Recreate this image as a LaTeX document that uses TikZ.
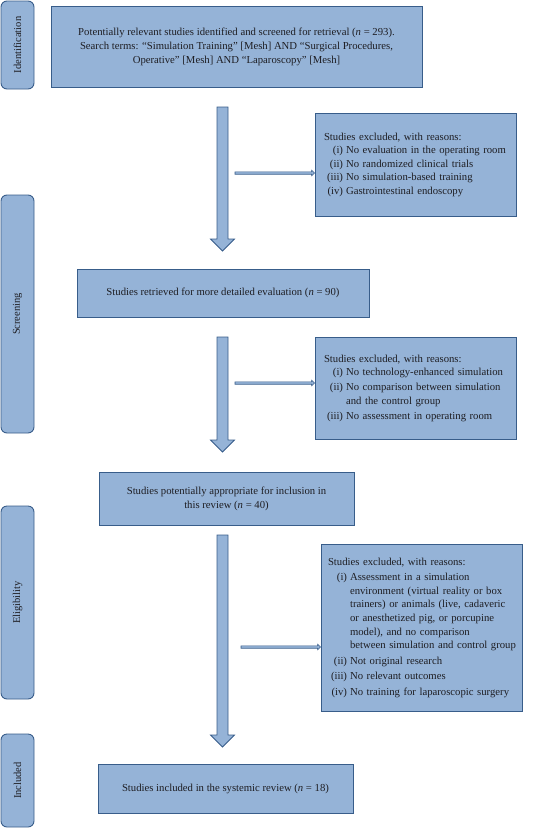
\documentclass[tikz,border=0pt]{standalone}
\usepackage{fontspec}
\setmainfont{Liberation Serif}
\usetikzlibrary{calc}

\definecolor{boxfill}{RGB}{149,179,215}
\definecolor{boxline}{RGB}{56,93,138}
\definecolor{ink}{RGB}{30,30,35}

\tikzset{
  stage/.style={draw=boxline,fill=boxfill,line width=0.9pt,text=ink,align=center,
    inner sep=0pt,font=\fontsize{10.7}{14}\selectfont},
  excl/.style={stage,align=left,text width=183pt,inner xsep=9pt,font=\fontsize{10.7}{13.6}\selectfont},
  phase/.style={draw=boxline,fill=boxfill,line width=0.9pt,rounded corners=6pt,
    text=ink,inner sep=0pt,minimum width=33pt,font=\fontsize{10.5}{12}\selectfont},
  blockarrow/.style={draw=boxline,fill=boxfill,line width=0.8pt,line join=miter}
}

% block arrow going down from #1 to the tip #2
\newcommand\flowdown[2]{%
  \draw[blockarrow] ($(#1)+(-5.5pt,0)$) -- ($(#2)+(-5.5pt,12pt)$) -- ($(#2)+(-12pt,12pt)$)
    -- (#2) -- ($(#2)+(12pt,12pt)$) -- ($(#2)+(5.5pt,12pt)$) -- ($(#1)+(5.5pt,0)$) -- cycle;}
% thin arrow going right from #1 to the tip #2
\newcommand\flowright[2]{%
  \draw[blockarrow,line width=0.6pt] ($(#1)+(0,1.2pt)$) -- ($(#2)+(-3pt,1.2pt)$) -- ($(#2)+(-3pt,2.8pt)$)
    -- (#2) -- ($(#2)+(-3pt,-2.8pt)$) -- ($(#2)+(-3pt,-1.2pt)$) -- ($(#1)+(0,-1.2pt)$) -- cycle;}

\begin{document}
\begin{tikzpicture}[x=1pt,y=1pt]
  \useasboundingbox (0,0) rectangle (534,-828);

  % phases on the left
  \node[phase,minimum height=88pt] (pid) at (17.5,-45) {\rotatebox{90}{Identification}};
  \node[phase,minimum height=238pt] (pscr) at (17.5,-314) {\rotatebox{90}{Screening}};
  \node[phase,minimum height=193pt] (pelig) at (17.5,-602.5) {\rotatebox{90}{Eligibility}};
  \node[phase,minimum height=93pt] (pinc) at (17.5,-780.5) {\rotatebox{90}{Included}};

  % main flow
  \node[stage,minimum width=371pt,minimum height=81pt] (ident) at (236.5,-46.5)
    {Potentially relevant studies identified and screened for retrieval (\textit{n} = 293).\\
     Search terms: “Simulation Training” [Mesh] AND “Surgical Procedures,\\
     Operative” [Mesh] AND “Laparoscopy” [Mesh]};
  \node[stage,minimum width=292pt,minimum height=48pt] (retr) at (223,-293)
    {Studies retrieved for more detailed evaluation (\textit{n} = 90)};
  \node[stage,minimum width=255pt,minimum height=53pt] (approp) at (226.5,-498.5)
    {Studies potentially appropriate for inclusion in\\ this review (\textit{n} = 40)};
  \node[stage,minimum width=255pt,minimum height=49pt] (incl) at (225.5,-788.5)
    {Studies included in the systemic review (\textit{n} = 18)};

  % exclusions
  \node[excl,minimum height=103pt] (exA) at (415.5,-164.5)
    {\begin{tabular}{@{\hspace{3pt}}r@{\hspace{3pt}}l@{}}
     \multicolumn{2}{@{}l}{Studies excluded, with reasons:}\\
     (i) & No evaluation in the operating room\\
     (ii) & No randomized clinical trials\\
     (iii) & No simulation-based training\\
     (iv) & Gastrointestinal endoscopy
     \end{tabular}};
  \node[excl,minimum height=102pt] (exB) at (415.5,-388)
    {\begin{tabular}{@{\hspace{3pt}}r@{\hspace{3pt}}l@{}}
     \multicolumn{2}{@{}l}{Studies excluded, with reasons:}\\
     (i) & No technology-enhanced simulation\\[1.5pt]
     (ii) & No comparison between simulation\\
          & and the control group\\[1.5pt]
     (iii) & No assessment in operating room
     \end{tabular}};
  \node[excl,minimum height=167pt,inner xsep=7pt,text width=187pt] (exC) at (421.5,-627.5)
    {\begin{tabular}{@{\hspace{3pt}}r@{\hspace{3pt}}l@{}}
     \multicolumn{2}{@{}l}{Studies excluded, with reasons:}\\[2pt]
     (i) & Assessment in a simulation\\
         & environment (virtual reality or box\\
         & trainers) or animals (live, cadaveric\\
         & or anesthetized pig, or porcupine\\
         & model), and no comparison\\
         & between simulation and control group\\[2pt]
     (ii) & Not original research\\[2pt]
     (iii) & No relevant outcomes\\[2pt]
     (iv) & No training for laparoscopic surgery
     \end{tabular}};

  % arrows
  \coordinate (a1s) at (222.5,-107);
  \coordinate (a1e) at (222.5,-251);
  \coordinate (a2s) at (222.5,-337);
  \coordinate (a2e) at (222.5,-452);
  \coordinate (a3s) at (222.5,-535);
  \coordinate (a3e) at (222.5,-747);
  \flowdown{a1s}{a1e}
  \flowdown{a2s}{a2e}
  \flowdown{a3s}{a3e}

  \coordinate (h1s) at (235,-173);
  \coordinate (h2s) at (235,-383);
  \coordinate (h3s) at (241,-647);
  \flowright{h1s}{h1s -| exA.west}
  \flowright{h2s}{h2s -| exB.west}
  \flowright{h3s}{h3s -| exC.west}
\end{tikzpicture}
\end{document}
